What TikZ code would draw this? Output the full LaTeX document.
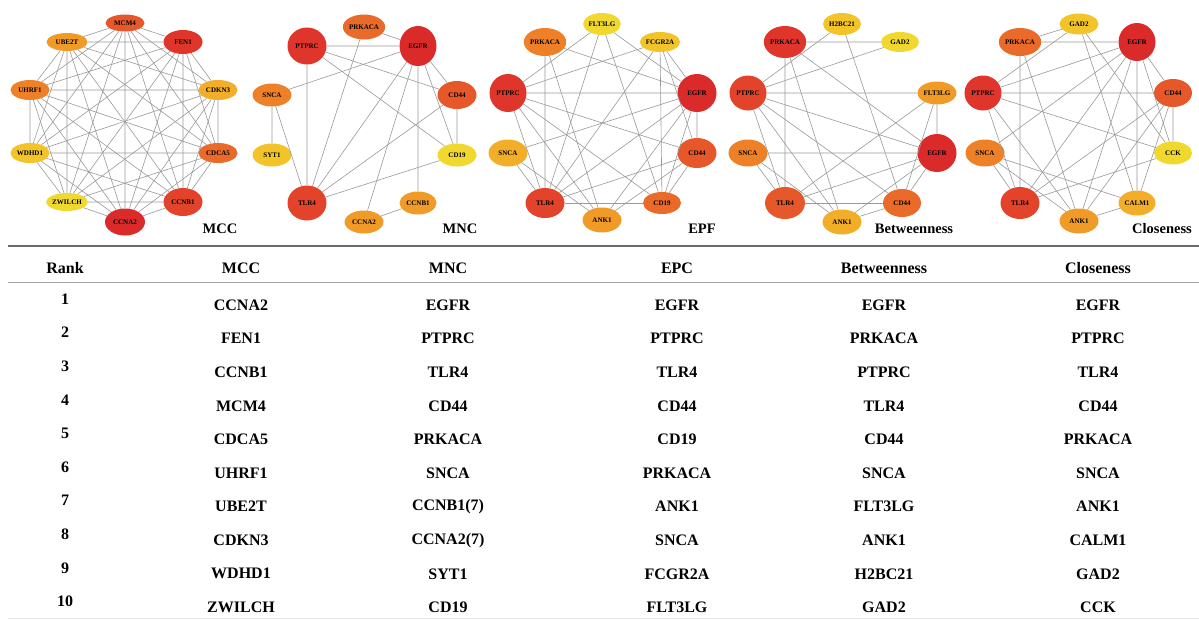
\documentclass[tikz,border=0pt]{standalone}
\usepackage{fontspec}
\setmainfont{Liberation Serif}
\usepackage{tikz}
\usetikzlibrary{shapes}
\definecolor{rk1}{HTML}{DB2A2A}
\definecolor{rk2}{HTML}{DF352A}
\definecolor{rk3}{HTML}{E2432A}
\definecolor{rk4}{HTML}{E6572A}
\definecolor{rk5}{HTML}{EA6A29}
\definecolor{rk6}{HTML}{EE8028}
\definecolor{rk7}{HTML}{F09A28}
\definecolor{rk8}{HTML}{F2AE28}
\definecolor{rk9}{HTML}{F2C42A}
\definecolor{rk10}{HTML}{F0D82E}
\definecolor{linkgray}{HTML}{999999}
\tikzstyle{gene}=[
        ellipse,
        draw=none,
        inner sep=0pt,
        minimum width=39pt,
        minimum height=20pt,
        text=black,
        font=\fontsize{7}{8}\selectfont\bfseries
]
\tikzstyle{link}=[draw=linkgray,line width=0.6pt]
\tikzstyle{panel}=[font=\fontsize{14.5}{16}\selectfont\bfseries]
\tikzstyle{cell}=[font=\fontsize{16}{18}\selectfont\bfseries,inner sep=1pt]
\tikzstyle{toprule}=[draw=black!58,line width=2pt]
\tikzstyle{midrule}=[draw=black!35,line width=1pt]

\begin{document}
\begin{tikzpicture}[x=1pt,y=-1pt]
\useasboundingbox (0,0) rectangle (1199,619);
% MCC
\node[gene,fill=rk4,minimum height=17pt] (m-MCM4) at (125,23) {MCM4};
\node[gene,fill=rk2,minimum height=24pt] (m-FEN1) at (183,42) {FEN1};
\node[gene,fill=rk8] (m-CDKN3) at (218,90) {CDKN3};
\node[gene,fill=rk5] (m-CDCA5) at (218,153) {CDCA5};
\node[gene,fill=rk3,minimum height=28pt] (m-CCNB1) at (183,202) {CCNB1};
\node[gene,fill=rk1,minimum width=40pt,minimum height=27pt] (m-CCNA2) at (125,222) {CCNA2};
\node[gene,fill=rk10,minimum height=18pt] (m-ZWILCH) at (67,202) {ZWILCH};
\node[gene,fill=rk9] (m-WDHD1) at (30,153) {WDHD1};
\node[gene,fill=rk6] (m-UHRF1) at (30,90) {UHRF1};
\node[gene,fill=rk7,minimum width=41pt,minimum height=18pt] (m-UBE2T) at (67,42) {UBE2T};
\node[panel] (m-title) at (220,229) {MCC};
\draw[link] (m-MCM4) -- (m-FEN1) (m-MCM4) -- (m-CDKN3) (m-MCM4) -- (m-CDCA5) (m-MCM4) -- (m-CCNB1) (m-MCM4) -- (m-CCNA2) (m-MCM4) -- (m-ZWILCH) (m-MCM4) -- (m-WDHD1) (m-MCM4) -- (m-UHRF1) (m-MCM4) -- (m-UBE2T);
\draw[link] (m-FEN1) -- (m-CDKN3) (m-FEN1) -- (m-CDCA5) (m-FEN1) -- (m-CCNB1) (m-FEN1) -- (m-CCNA2) (m-FEN1) -- (m-ZWILCH) (m-FEN1) -- (m-WDHD1) (m-FEN1) -- (m-UHRF1) (m-FEN1) -- (m-UBE2T);
\draw[link] (m-CDKN3) -- (m-CDCA5) (m-CDKN3) -- (m-CCNB1) (m-CDKN3) -- (m-CCNA2) (m-CDKN3) -- (m-ZWILCH) (m-CDKN3) -- (m-WDHD1) (m-CDKN3) -- (m-UHRF1) (m-CDKN3) -- (m-UBE2T);
\draw[link] (m-CDCA5) -- (m-CCNB1) (m-CDCA5) -- (m-CCNA2) (m-CDCA5) -- (m-ZWILCH) (m-CDCA5) -- (m-WDHD1) (m-CDCA5) -- (m-UHRF1) (m-CDCA5) -- (m-UBE2T);
\draw[link] (m-CCNB1) -- (m-CCNA2) (m-CCNB1) -- (m-ZWILCH) (m-CCNB1) -- (m-WDHD1) (m-CCNB1) -- (m-UHRF1) (m-CCNB1) -- (m-UBE2T);
\draw[link] (m-CCNA2) -- (m-ZWILCH) (m-CCNA2) -- (m-WDHD1) (m-CCNA2) -- (m-UHRF1) (m-CCNA2) -- (m-UBE2T);
\draw[link] (m-ZWILCH) -- (m-WDHD1) (m-ZWILCH) -- (m-UHRF1) (m-ZWILCH) -- (m-UBE2T);
\draw[link] (m-WDHD1) -- (m-UHRF1) (m-WDHD1) -- (m-UBE2T);
\draw[link] (m-UHRF1) -- (m-UBE2T);
% MNC
\node[gene,fill=rk5,minimum height=25pt] (n-PRKACA) at (364,27) {PRKACA};
\node[gene,fill=rk1,minimum width=37pt,minimum height=40pt] (n-EGFR) at (418,46) {EGFR};
\node[gene,fill=rk2,minimum height=37pt] (n-PTPRC) at (307,46) {PTPRC};
\node[gene,fill=rk6,minimum height=23pt] (n-SNCA) at (272,95) {SNCA};
\node[gene,fill=rk4,minimum height=28pt] (n-CD44) at (457,95) {CD44};
\node[gene,fill=rk9,minimum height=23pt] (n-SYT1) at (272,155) {SYT1};
\node[gene,fill=rk10,minimum height=23pt] (n-CD19) at (457,155) {CD19};
\node[gene,fill=rk3,minimum height=35pt] (n-TLR4) at (307,203) {TLR4};
\node[gene,fill=rk7,minimum width=37pt,minimum height=23pt] (n-CCNB1) at (418,203) {CCNB1};
\node[gene,fill=rk7,minimum height=23pt] (n-CCNA2) at (364,222) {CCNA2};
\node[panel] (n-title) at (460,229) {MNC};
\draw[link] (n-PRKACA) -- (n-EGFR) (n-PRKACA) -- (n-TLR4);
\draw[link] (n-PTPRC) -- (n-EGFR) (n-PTPRC) -- (n-TLR4) (n-PTPRC) -- (n-CD44) (n-PTPRC) -- (n-CD19);
\draw[link] (n-EGFR) -- (n-SNCA) (n-EGFR) -- (n-TLR4) (n-EGFR) -- (n-CCNA2) (n-EGFR) -- (n-CCNB1) (n-EGFR) -- (n-CD44) (n-EGFR) -- (n-CD19);
\draw[link] (n-SNCA) -- (n-SYT1) (n-SNCA) -- (n-TLR4);
\draw[link] (n-CD44) -- (n-CD19) (n-CD44) -- (n-TLR4);
\draw[link] (n-CD19) -- (n-TLR4);
\draw[link] (n-CCNA2) -- (n-CCNB1);
% EPF
\node[gene,fill=rk10,minimum width=37pt,minimum height=22pt] (e-FLT3LG) at (602,24) {FLT3LG};
\node[gene,fill=rk6,minimum width=40pt,minimum height=28pt] (e-PRKACA) at (545,42) {PRKACA};
\node[gene,fill=rk9,minimum width=37pt] (e-FCGR2A) at (660,42) {FCGR2A};
\node[gene,fill=rk2,minimum width=37pt,minimum height=38pt] (e-PTPRC) at (508,93) {PTPRC};
\node[gene,fill=rk1,minimum height=38pt] (e-EGFR) at (697,93) {EGFR};
\node[gene,fill=rk8,minimum height=27pt] (e-SNCA) at (508,153) {SNCA};
\node[gene,fill=rk4,minimum height=30pt] (e-CD44) at (697,153) {CD44};
\node[gene,fill=rk3,minimum height=30pt] (e-TLR4) at (545,203) {TLR4};
\node[gene,fill=rk5,minimum width=38pt,minimum height=22pt] (e-CD19) at (662,203) {CD19};
\node[gene,fill=rk7,minimum height=25pt] (e-ANK1) at (602,220) {ANK1};
\node[panel] (e-title) at (702,229) {EPF};
\draw[link] (e-FLT3LG) -- (e-PTPRC) (e-FLT3LG) -- (e-TLR4) (e-FLT3LG) -- (e-EGFR) (e-FLT3LG) -- (e-CD19);
\draw[link] (e-PRKACA) -- (e-TLR4) (e-PRKACA) -- (e-EGFR) (e-PRKACA) -- (e-ANK1);
\draw[link] (e-FCGR2A) -- (e-PTPRC) (e-FCGR2A) -- (e-TLR4) (e-FCGR2A) -- (e-CD19) (e-FCGR2A) -- (e-EGFR) (e-FCGR2A) -- (e-CD44);
\draw[link] (e-PTPRC) -- (e-EGFR) (e-PTPRC) -- (e-CD44) (e-PTPRC) -- (e-CD19) (e-PTPRC) -- (e-TLR4) (e-PTPRC) -- (e-ANK1);
\draw[link] (e-EGFR) -- (e-SNCA) (e-EGFR) -- (e-TLR4) (e-EGFR) -- (e-ANK1) (e-EGFR) -- (e-CD19) (e-EGFR) -- (e-CD44);
\draw[link] (e-SNCA) -- (e-TLR4) (e-SNCA) -- (e-ANK1);
\draw[link] (e-CD44) -- (e-TLR4) (e-CD44) -- (e-ANK1) (e-CD44) -- (e-CD19);
\draw[link] (e-TLR4) -- (e-CD19);
% Betweenness
\node[gene,fill=rk9,minimum width=38pt,minimum height=22pt] (b-H2BC21) at (842,24) {H2BC21};
\node[gene,fill=rk2,minimum width=40pt,minimum height=32pt] (b-PRKACA) at (785,42) {PRKACA};
\node[gene,fill=rk10,minimum width=38pt] (b-GAD2) at (900,42) {GAD2};
\node[gene,fill=rk3,minimum width=37pt,minimum height=35pt] (b-PTPRC) at (748,93) {PTPRC};
\node[gene,fill=rk7,minimum height=23pt] (b-FLT3LG) at (937,93) {FLT3LG};
\node[gene,fill=rk6,minimum height=27pt] (b-SNCA) at (748,153) {SNCA};
\node[gene,fill=rk1,minimum height=38pt] (b-EGFR) at (937,153) {EGFR};
\node[gene,fill=rk4,minimum width=40pt,minimum height=32pt] (b-TLR4) at (785,203) {TLR4};
\node[gene,fill=rk5,minimum width=38pt,minimum height=28pt] (b-CD44) at (902,203) {CD44};
\node[gene,fill=rk8,minimum height=25pt] (b-ANK1) at (842,222) {ANK1};
\node[panel] (b-title) at (914,229) {Betweenness};
\draw[link] (b-H2BC21) -- (b-PTPRC) (b-H2BC21) -- (b-CD44);
\draw[link] (b-PRKACA) -- (b-GAD2) (b-PRKACA) -- (b-TLR4) (b-PRKACA) -- (b-ANK1) (b-PRKACA) -- (b-EGFR);
\draw[link] (b-GAD2) -- (b-PTPRC);
\draw[link] (b-PTPRC) -- (b-FLT3LG) (b-PTPRC) -- (b-EGFR) (b-PTPRC) -- (b-CD44) (b-PTPRC) -- (b-TLR4) (b-PTPRC) -- (b-ANK1);
\draw[link] (b-SNCA) -- (b-EGFR) (b-SNCA) -- (b-TLR4) (b-SNCA) -- (b-ANK1);
\draw[link] (b-FLT3LG) -- (b-TLR4) (b-FLT3LG) -- (b-CD44) (b-FLT3LG) -- (b-EGFR);
\draw[link] (b-EGFR) -- (b-TLR4) (b-EGFR) -- (b-CD44) (b-EGFR) -- (b-ANK1);
\draw[link] (b-TLR4) -- (b-CD44);
\draw[link] (b-CD44) -- (b-ANK1);
% Closeness
\node[gene,fill=rk9,minimum height=21pt] (c-GAD2) at (1079,24) {GAD2};
\node[gene,fill=rk5,minimum height=28pt] (c-PRKACA) at (1020,42) {PRKACA};
\node[gene,fill=rk1,minimum width=37pt,minimum height=38pt] (c-EGFR) at (1137,42) {EGFR};
\node[gene,fill=rk2,minimum width=37pt,minimum height=35pt] (c-PTPRC) at (983,93) {PTPRC};
\node[gene,fill=rk4,minimum width=38pt,minimum height=28pt] (c-CD44) at (1173,93) {CD44};
\node[gene,fill=rk6,minimum height=27pt] (c-SNCA) at (985,153) {SNCA};
\node[gene,fill=rk10,minimum width=38pt,minimum height=23pt] (c-CCK) at (1173,153) {CCK};
\node[gene,fill=rk3,minimum height=32pt] (c-TLR4) at (1020,203) {TLR4};
\node[gene,fill=rk8,minimum width=37pt,minimum height=25pt] (c-CALM1) at (1137,203) {CALM1};
\node[gene,fill=rk7,minimum height=25pt] (c-ANK1) at (1079,221) {ANK1};
\node[panel] (c-title) at (1162,229) {Closeness};
\draw[link] (c-GAD2) -- (c-PRKACA) (c-GAD2) -- (c-PTPRC) (c-GAD2) -- (c-CALM1) (c-GAD2) -- (c-CCK);
\draw[link] (c-PRKACA) -- (c-EGFR) (c-PRKACA) -- (c-TLR4) (c-PRKACA) -- (c-ANK1);
\draw[link] (c-EGFR) -- (c-PTPRC) (c-EGFR) -- (c-SNCA) (c-EGFR) -- (c-TLR4) (c-EGFR) -- (c-ANK1) (c-EGFR) -- (c-CALM1) (c-EGFR) -- (c-CCK) (c-EGFR) -- (c-CD44);
\draw[link] (c-PTPRC) -- (c-CD44) (c-PTPRC) -- (c-CCK) (c-PTPRC) -- (c-TLR4) (c-PTPRC) -- (c-ANK1);
\draw[link] (c-CD44) -- (c-TLR4) (c-CD44) -- (c-ANK1) (c-CD44) -- (c-CALM1) (c-CD44) -- (c-CCK);
\draw[link] (c-SNCA) -- (c-TLR4) (c-SNCA) -- (c-ANK1) (c-SNCA) -- (c-CALM1);
\draw[link] (c-CCK) -- (c-TLR4);
\draw[link] (c-CALM1) -- (c-ANK1);
% table
\draw[toprule] (8,246) -- (1199,246);
\draw[midrule] (8,282) -- (1199,282);
\draw[draw=black!10,line width=0.8pt] (8,618) -- (1199,618);
\node[cell] (hRank) at (65,268) {Rank};
\node[cell] (hMCC) at (241,268) {MCC};
\node[cell] (hMNC) at (448,268) {MNC};
\node[cell] (hEPC) at (677,268) {EPC};
\node[cell] (hBtw) at (884,268) {Betweenness};
\node[cell] (hCls) at (1098,268) {Closeness};
\foreach \k/\ma/\mn/\ep/\bt/\cl in {1/CCNA2/EGFR/EGFR/EGFR/EGFR,
  2/FEN1/PTPRC/PTPRC/PRKACA/PTPRC,
  3/CCNB1/TLR4/TLR4/PTPRC/TLR4,
  4/MCM4/CD44/CD44/TLR4/CD44,
  5/CDCA5/PRKACA/CD19/CD44/PRKACA,
  6/UHRF1/SNCA/PRKACA/SNCA/SNCA,
  7/UBE2T/CCNB1(7)/ANK1/FLT3LG/ANK1,
  8/CDKN3/CCNA2(7)/SNCA/ANK1/CALM1,
  9/WDHD1/SYT1/FCGR2A/H2BC21/GAD2,
  10/ZWILCH/CD19/FLT3LG/GAD2/CCK}{
  \pgfmathsetmacro\ry{305+33.6*(\k-1)}
  \node[cell] (rank\k) at (65,\ry-6) {\k};
  \node[cell] (mcc\k) at (241,\ry) {\ma};
  \node[cell] (mnc\k) at (448,\ry) {\mn};
  \node[cell] (epc\k) at (677,\ry) {\ep};
  \node[cell] (btw\k) at (884,\ry) {\bt};
  \node[cell] (cls\k) at (1098,\ry) {\cl};
}
\end{tikzpicture}
\end{document}
